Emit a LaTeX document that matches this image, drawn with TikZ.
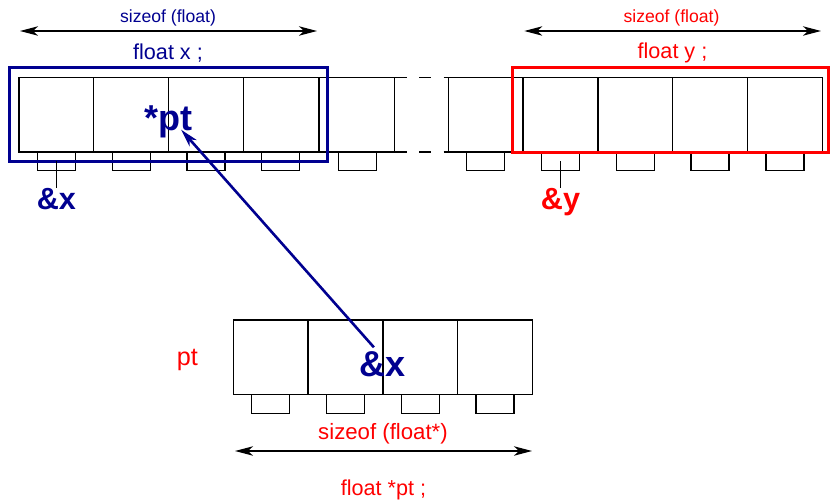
\documentclass[tikz,border=0pt]{standalone}
\usepackage{fontspec}
\setmainfont{Liberation Sans}
\usetikzlibrary{positioning,arrows.meta}
\definecolor{xblue}{RGB}{0,0,144}
\definecolor{xred}{RGB}{255,0,0}
\tikzset{
	cell/.style={draw, line width=0.65pt, minimum width=37.4pt, minimum height=37.35pt, inner sep=0pt, outer sep=0pt},
	tab/.style={draw, line width=0.65pt, minimum width=19pt, minimum height=9.35pt, inner sep=0pt, outer sep=0pt},
	small/.style={inner sep=0pt, font=\fontsize{8.8}{10}\selectfont},
	decl/.style={inner sep=0pt, font=\fontsize{10.8}{13}\selectfont},
	addr/.style={inner sep=0pt, font=\fontsize{15.3}{18}\selectfont\bfseries},
	big/.style={inner sep=0pt, font=\fontsize{18}{21}\selectfont\bfseries},
	dim/.style={<->, line width=0.65pt},
	gap/.style={line width=0.65pt, dash pattern=on 6.15pt off 6.15pt on 6pt off 6.2pt}
}
\begin{document}
\begin{tikzpicture}[x=0.5pt, y=-0.5pt, >={Stealth[length=9pt, width=4.7pt, inset=2.5pt]}]
		\useasboundingbox (0,0) rectangle (831,502);
		\node (a1) [cell, anchor=north west] at (19,77.3) {};
		\node (a2) [cell, right=0pt of a1] {};
		\node (a3) [cell, right=0pt of a2] {};
		\node (a4) [cell, right=0pt of a3] {};
		\node (a5) [cell, right=0.8pt of a4] {};
		\node (b1) [cell, anchor=north west] at (448.3,77.3) {};
		\node (b2) [cell, right=0pt of b1] {};
		\node (b3) [cell, right=0pt of b2] {};
		\node (b4) [cell, right=0pt of b3] {};
		\node (b5) [cell, right=0pt of b4] {};
		\node (c1) [cell, anchor=north west] at (233.3,320) {};
		\node (c2) [cell, right=0pt of c1] {};
		\node (c3) [cell, right=0pt of c2] {};
		\node (c4) [cell, right=0pt of c3] {};
		\node (ta1) [tab, below=0pt of a1] {};
		\node (ta2) [tab, below=0pt of a2] {};
		\node (ta3) [tab, below=0pt of a3] {};
		\node (ta4) [tab, below=0pt of a4] {};
		\node (ta5) [tab, below=0pt of a5] {};
		\node (tb1) [tab, below=0pt of b1] {};
		\node (tb2) [tab, below=0pt of b2] {};
		\node (tb3) [tab, below=0pt of b3] {};
		\node (tb4) [tab, below=0pt of b4] {};
		\node (tb5) [tab, below=0pt of b5] {};
		\node (tc1) [tab, below=0pt of c1] {};
		\node (tc2) [tab, below=0pt of c2] {};
		\node (tc3) [tab, below=0pt of c3] {};
		\node (tc4) [tab, below=0pt of c4] {};
		\draw [gap] (a5.north east) -- (b1.north west);
		\draw [gap] (a5.south east) -- (b1.south west);
		\draw [xblue, line width=1.5pt] ([shift={(-10,-9.3)}]a1.north west) rectangle ([shift={(9,10)}]a4.south east);
		\draw [xred, line width=1.5pt] ([shift={(-10.6,-9.3)}]b2.north west) rectangle ([shift={(6.2,0.5)}]b5.south east);
		\node (szx) [small, text=xblue] at (168,18) {sizeof (float)};
		\node (dx) [decl, text=xblue] at (168,53) {float x ;};
		\coordinate (lx) at (20,31);
		\coordinate (rx) at (317,31);
		\draw [dim] (lx) -- (rx);
		\node (szy) [small, text=xred] at (671.5,18) {sizeof (float)};
		\node (dy) [decl, text=xred] at (672.5,53) {float y ;};
		\coordinate (ly) at (524.3,31);
		\coordinate (ry) at (821,31);
		\draw [dim] (ly) -- (ry);
		\node (ax) [addr, text=xblue, below=8.5pt of ta1] {\&x};
		\node (ay) [addr, text=xred, below=8.5pt of tb2] {\&y};
		\draw [line width=0.65pt] (ta1.center) -- (ax.north);
		\draw [line width=0.65pt] (tb2.center) -- (ay.north);
		\node (pt) [big, text=xblue] at ([yshift=-3.5pt]a2.east) {*pt};
		\node (bx) [big, text=xblue] at ([yshift=-3.5pt]c2.east) {\&x};
		\node (pn) [decl, font=\fontsize{12.6}{15}\selectfont, text=xred, left=17.5pt of c1, yshift=-1.5pt] {pt};
		\draw [->, xblue, line width=1.3pt] ([shift={(-4.5pt,2pt)}]bx.north) -- ([shift={(6.25pt,-4pt)}]pt.center);
		\node (szp) [decl, font=\fontsize{11.1}{13}\selectfont, text=xred] at (383,434) {sizeof (float*)};
		\coordinate (lp) at (235,451);
		\coordinate (rp) at (532,451);
		\draw [dim] (lp) -- (rp);
		\node (dp) [decl, text=xred] at (383.5,490) {float *pt ;};
\end{tikzpicture}
\end{document}
